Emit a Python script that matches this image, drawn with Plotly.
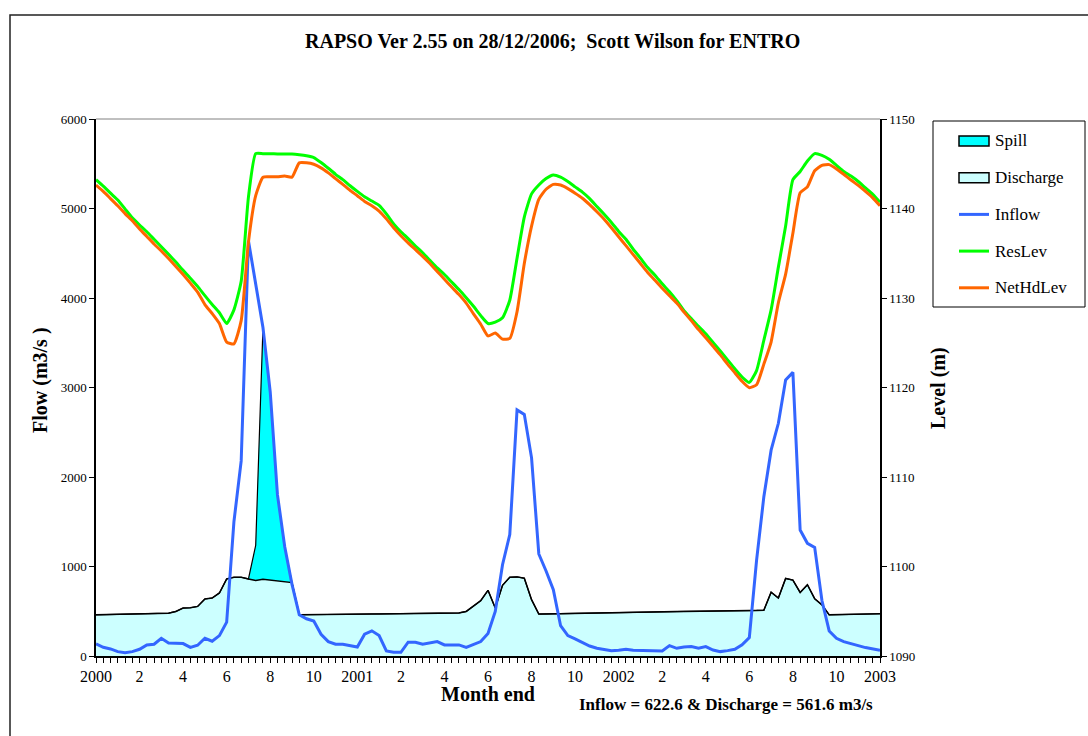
import plotly.graph_objects as go

# ---------------- data (dekadal values, Jan 2000 .. Dec 2002) ----------------
TICK_LABELS = ["2000", "2", "4", "6", "8", "10",
               "2001", "2", "4", "6", "8", "10",
               "2002", "2", "4", "6", "8", "10", "2003"]

inflow = [135, 97, 79, 49, 37, 49, 75, 124, 131, 198, 146, 139, 139, 97, 120, 198, 165, 228, 378,
          1500, 2180, 4640, 4160, 3670, 2950, 1800, 1220, 800, 460,
          416, 390, 243, 161, 131, 131, 112, 100,
          243, 281, 228, 56, 41, 41, 154, 154, 131, 146, 161, 124, 124, 124, 97, 131, 161, 251,
          498, 1020, 1357, 2750, 2700, 2214, 1140, 950, 740, 338,
          228, 191, 154, 112, 86, 71, 60, 65, 75, 64, 64, 56, 56, 56, 116, 86, 101, 105, 86, 105,
          67, 49, 60, 75, 124, 206,
          1072, 1780, 2300, 2600, 3083, 3169, 1408, 1259, 1214, 620, 280,
          198, 161, 142, 116, 94, 75, 64]

discharge = [460, 462, 464, 465, 467, 468, 469, 470, 472, 475, 479, 498, 536, 539, 554, 637, 648, 704,
             861, 880, 880, 861, 843, 858, 850, 835, 828, 820, 461, 461, 462, 462, 462, 463, 463, 464,
             464, 466, 468, 470, 471, 472, 473, 474, 475, 476, 477, 478, 479, 480, 481, 498, 554, 618,
             734, 536, 790, 880, 884, 869, 629, 468, 470, 471, 472, 473, 474, 475, 476, 477, 478, 479,
             480, 482, 484, 486, 488, 490, 492, 494, 496, 498, 500, 502, 503, 504, 505, 506, 507, 508,
             508, 509, 512, 712, 648, 866, 848, 710, 796, 640, 572, 460, 461, 462, 464, 466, 468, 470,
             472]

spill = [0] * 22 + [394, 2812, 2103, 960, 389] + [0] * 82

res_lev = [1143.22, 1142.50, 1141.71, 1140.95, 1139.95, 1138.96, 1138.16, 1137.40, 1136.56, 1135.73,
           1134.89, 1134.01, 1133.09, 1132.22, 1131.30, 1130.26, 1129.27, 1128.35, 1127.15, 1128.67,
           1131.86, 1141.27, 1146.13, 1146.13, 1146.11, 1146.10, 1146.10, 1146.09, 1146.01, 1145.89,
           1145.69, 1145.14, 1144.50, 1143.82, 1143.22, 1142.54, 1141.91, 1141.31, 1140.83, 1140.35,
           1139.40, 1138.28, 1137.40, 1136.64, 1135.81, 1135.05, 1134.21, 1133.37, 1132.62, 1131.78,
           1130.94, 1130.02, 1129.07, 1128.03, 1127.15, 1127.31, 1127.79, 1129.75, 1134.45, 1139.04,
           1141.63, 1142.62, 1143.34, 1143.74, 1143.50, 1143.02, 1142.42, 1141.83, 1141.11, 1140.23,
           1139.35, 1138.44, 1137.44, 1136.56, 1135.45, 1134.45, 1133.40, 1132.55, 1131.58, 1130.70,
           1129.70, 1128.59, 1127.71, 1126.83, 1126.00, 1125.04, 1124.08, 1123.09, 1122.09, 1121.17,
           1120.57, 1121.89, 1125.28, 1128.67, 1133.45, 1138.04, 1143.22, 1144.14, 1145.30, 1146.13,
           1145.93, 1145.49, 1144.82, 1144.14, 1143.62, 1143.02, 1142.30, 1141.59, 1140.71]

net_hd_lev = [1142.62, 1141.91, 1141.11, 1140.31, 1139.43, 1138.64, 1137.72, 1136.88, 1136.04, 1135.25,
              1134.41, 1133.53, 1132.62, 1131.66, 1130.66, 1129.27, 1128.27, 1127.15, 1125.08, 1124.88,
              1127.47, 1136.24, 1141.43, 1143.50, 1143.54, 1143.54, 1143.62, 1143.50, 1145.10, 1145.10,
              1144.94, 1144.54, 1143.98, 1143.34, 1142.70, 1142.03, 1141.43, 1140.79, 1140.31, 1139.71,
              1138.84, 1137.84, 1136.96, 1136.16, 1135.41, 1134.65, 1133.85, 1132.97, 1132.10, 1131.22,
              1130.38, 1129.43, 1128.23, 1127.07, 1125.76, 1126.08, 1125.40, 1125.48, 1128.47, 1133.85,
              1138.04, 1141.03, 1142.15, 1142.70, 1142.62, 1142.22, 1141.71, 1141.15, 1140.43, 1139.63,
              1138.80, 1137.84, 1136.84, 1135.85, 1134.85, 1133.85, 1132.85, 1131.98, 1131.10, 1130.26,
              1129.43, 1128.43, 1127.47, 1126.48, 1125.56, 1124.60, 1123.64, 1122.61, 1121.65, 1120.69,
              1119.98, 1120.30, 1122.61, 1125.08, 1129.47, 1132.66, 1137.24, 1141.75, 1142.42, 1144.22,
              1144.82, 1144.90, 1144.42, 1143.82, 1143.18, 1142.58, 1141.91, 1141.19, 1140.31]

SERIES_NAMES = ["Spill", "Discharge", "Inflow", "ResLev", "NetHdLev"]
TITLE = "RAPSO Ver 2.55 on 28/12/2006;  Scott Wilson for ENTRO"
SUMMARY = "Inflow = 622.6 & Discharge = 561.6 m3/s"

# ---------------- styles ----------------
FONT = "Liberation Serif"
STYLE = {
    "Spill": dict(kind="area", fill="#00FFFF", line="black"),
    "Discharge": dict(kind="area", fill="#CCFFFF", line="black"),
    "Inflow": dict(kind="line", line="#3366FF"),
    "ResLev": dict(kind="line", line="#00FF00"),
    "NetHdLev": dict(kind="line", line="#FF6600"),
}

n = len(inflow)
x = list(range(n))
tickvals = list(range(n))
ticktext = [TICK_LABELS[i // 6] if i % 6 == 0 else "" for i in range(n)]
spill_top = [d + s for d, s in zip(discharge, spill)]

fig = go.Figure()
fig.add_trace(go.Scatter(x=x, y=discharge, name="Discharge", mode="lines", fill="tozeroy",
                         line=dict(color="black", width=1.5), fillcolor=STYLE["Discharge"]["fill"],
                         showlegend=False))
fig.add_trace(go.Scatter(x=x, y=spill_top, name="Spill", mode="lines", fill="tonexty",
                         line=dict(color="black", width=1.2), fillcolor=STYLE["Spill"]["fill"],
                         customdata=spill, hovertemplate="Spill %{customdata}<extra></extra>",
                         showlegend=False))
fig.add_trace(go.Scatter(x=x, y=inflow, name="Inflow", mode="lines",
                         line=dict(color=STYLE["Inflow"]["line"], width=3), showlegend=False))
fig.add_trace(go.Scatter(x=x, y=res_lev, name="ResLev", mode="lines", yaxis="y2",
                         line=dict(color=STYLE["ResLev"]["line"], width=3, shape="spline", smoothing=0.5),
                         showlegend=False))
fig.add_trace(go.Scatter(x=x, y=net_hd_lev, name="NetHdLev", mode="lines", yaxis="y2",
                         line=dict(color=STYLE["NetHdLev"]["line"], width=3, shape="spline", smoothing=0.5),
                         showlegend=False))

L, R, T, B = 96, 880, 119, 656
W, H = R - L, B - T


def px(v):
    return (v - L) / W


def py(v):
    return (B - v) / H


shapes = [
    dict(type="line", xref="paper", yref="paper", x0=0, x1=1, y0=1, y1=1,
         line=dict(color="#808080", width=1)),
    dict(type="rect", xref="paper", yref="paper", x0=px(10), x1=px(1100), y0=py(748), y1=py(15),
         line=dict(color="#222222", width=1.5), fillcolor="rgba(0,0,0,0)", layer="below"),
    # legend box
    dict(type="rect", xref="paper", yref="paper", x0=px(933), x1=px(1085), y0=py(307), y1=py(121),
         line=dict(color="black", width=1), fillcolor="white", layer="above"),
]

annotations = [
    dict(text="<b>" + TITLE + "</b>", xref="paper", yref="paper", x=px(552), y=py(41),
         showarrow=False, font=dict(family=FONT, size=20), xanchor="center", yanchor="middle"),
    dict(text="<b>Flow (m3/s )</b>", xref="paper", yref="paper", x=px(40), y=py(380),
         showarrow=False, textangle=-90, font=dict(family=FONT, size=20),
         xanchor="center", yanchor="middle"),
    dict(text="<b>Level (m)</b>", xref="paper", yref="paper", x=px(938), y=py(388),
         showarrow=False, textangle=-90, font=dict(family=FONT, size=20),
         xanchor="center", yanchor="middle"),
    dict(text="<b>Month end</b>", xref="paper", yref="paper", x=px(488), y=py(694),
         showarrow=False, font=dict(family=FONT, size=20), xanchor="center", yanchor="middle"),
    dict(text="<b>" + SUMMARY + "</b>", xref="paper", yref="paper", x=px(726), y=py(704),
         showarrow=False, font=dict(family=FONT, size=17), xanchor="center", yanchor="middle"),
]

# legend entries (box above, one row per series)
row0, row_gap = 141, 36.7
for k, name in enumerate(SERIES_NAMES):
    yc = row0 + k * row_gap
    st = STYLE[name]
    if st["kind"] == "area":
        shapes.append(dict(type="rect", xref="paper", yref="paper",
                           x0=px(959), x1=px(989), y0=py(yc + 5), y1=py(yc - 5),
                           line=dict(color=st["line"], width=1.5), fillcolor=st["fill"],
                           layer="above"))
    else:
        shapes.append(dict(type="line", xref="paper", yref="paper",
                           x0=px(959), x1=px(989), y0=py(yc), y1=py(yc),
                           line=dict(color=st["line"], width=3), layer="above"))
    annotations.append(dict(text=name, xref="paper", yref="paper", x=px(993), y=py(yc),
                            showarrow=False, font=dict(family=FONT, size=17),
                            xanchor="left", yanchor="middle"))

fig.update_layout(
    width=1088, height=736,
    margin=dict(l=L, r=1088 - R, t=T, b=736 - B, autoexpand=False),
    paper_bgcolor="white", plot_bgcolor="white",
    font=dict(family=FONT, color="black", size=13),
    showlegend=False,
    xaxis=dict(range=[0, n - 1], tickmode="array", tickvals=tickvals, ticktext=ticktext,
               ticks="outside", ticklen=5, tickwidth=1, tickcolor="black",
               showline=True, linecolor="black", linewidth=1.5, showgrid=False, zeroline=False,
               tickfont=dict(family=FONT, size=16), tickangle=0),
    yaxis=dict(range=[0, 6000], dtick=1000, ticks="outside", ticklen=5, tickcolor="black",
               showline=True, linecolor="black", linewidth=1.5, showgrid=False, zeroline=False,
               tickfont=dict(family=FONT, size=13)),
    yaxis2=dict(range=[1090, 1150], dtick=10, overlaying="y", side="right",
                ticks="outside", ticklen=5, tickcolor="black",
                showline=True, linecolor="black", linewidth=1.5, showgrid=False, zeroline=False,
                tickfont=dict(family=FONT, size=13)),
    shapes=shapes,
    annotations=annotations,
)

fig.write_html("out.html")
